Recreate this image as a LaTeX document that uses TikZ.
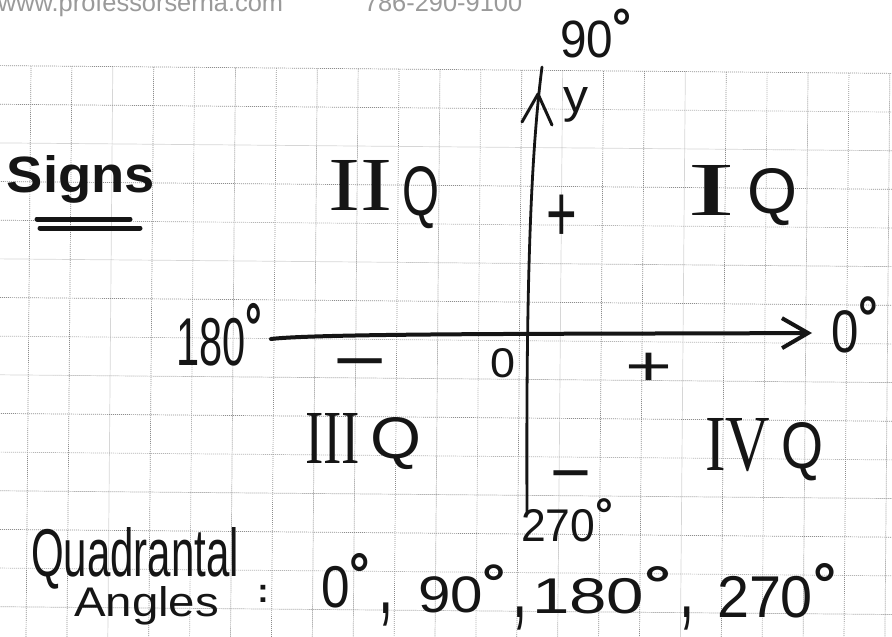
\documentclass[tikz,border=0pt]{standalone}
\usepackage{fontspec}
\setmainfont{Liberation Sans}
\newfontfamily\romfont{Liberation Serif}
\usetikzlibrary{arrows.meta}
\definecolor{ink}{HTML}{151515}
\definecolor{gridc}{HTML}{8C8C8C}
\definecolor{hdr}{HTML}{9A9A9A}
\newcommand{\fitbox}[3]{\resizebox{#1pt}{#2pt}{#3}}
\newcommand{\dg}{\raisebox{.22em}{\textbf{°}}}
\begin{document}
\begin{tikzpicture}[x=1pt,y=-1pt,
  gridline/.style={draw=gridc, line width=0.7pt, dash pattern=on 0.9pt off 1.1pt},
  hw/.style={inner sep=0pt, outer sep=0pt, text=ink, anchor=base west},
  sgn/.style={inner sep=0pt, outer sep=0pt, text=ink, anchor=base, font=\fontsize{70}{70}\selectfont},
  cma/.style={inner sep=0pt, outer sep=0pt, text=ink, anchor=base, font=\fontsize{55}{55}\selectfont},
  hdrtext/.style={inner sep=0pt, outer sep=0pt, text=hdr, anchor=base west, font=\fontsize{25.4}{26}\selectfont},
  axisline/.style={draw=ink, line cap=round, line join=round},
  uline/.style={draw=ink, line width=5pt, line cap=round},
]
\useasboundingbox (0,0) rectangle (892,637);
\fill[white] (0,0) rectangle (892,637);

% graph paper grid
\begin{scope}[rotate around={-0.5:(446,318)}]
  \foreach \k in {0,...,15} \draw[gridline] (-20,{69.5+38.65*\k}) -- (912,{69.5+38.65*\k});
  \foreach \j in {0,...,21} \draw[gridline] ({28.8+40.9*\j},69.5) -- ({28.8+40.9*\j},660);
\end{scope}

% header (cut at the top edge, as in the scan)
\node[hdrtext] (web) at (-2,11) {www.professorserna.com};
\node[hdrtext] (phone) at (364,11) {786-290-9100};

% axes
\coordinate (ytop) at (542,67);
\coordinate (ybot) at (527,513);
\draw[axisline, line width=2.8pt] (ybot) .. controls (526,300) and (530,160) .. (ytop);
\coordinate (ya1) at (522,122);
\coordinate (ya2) at (538,94);
\coordinate (ya3) at (552,125);
\draw[axisline, line width=3pt] (ya1) -- (ya2) -- (ya3);

\coordinate (xl) at (271,339);
\coordinate (xr) at (812,333);
\draw[axisline, line width=4pt, -{Straight Barb[length=26pt,width=30pt]}] (xl) .. controls (320,333) and (600,334) .. (xr);

% Signs title
\node[hw] (signs) at (7,192) {\fitbox{148}{37}{\textbf{Signs}}};
\draw[uline] (37,219) -- (130,219);
\draw[uline] (40,228) -- (140,228);

% quadrant labels
\node[hw] (q2n) at (328,210) {\fitbox{64}{50}{\romfont II}};
\node[hw] (q2q) at (402,215) {\fitbox{37}{49}{Q}};
\node[hw] (q1n) at (687,215) {\fitbox{48}{50}{\romfont I}};
\node[hw] (q1q) at (747,213) {\fitbox{50}{45}{Q}};
\node[hw] (q3n) at (305,463) {\fitbox{55}{50}{\romfont III}};
\node[hw] (q3q) at (370,458) {\fitbox{51}{41}{Q}};
\node[hw] (q4n) at (705,470) {\fitbox{65}{52}{\romfont IV}};
\node[hw] (q4q) at (781,468) {\fitbox{42}{46}{Q}};

% axis labels
\node[hw] (l180) at (176,365) {\fitbox{86}{62}{180\dg}};
\node[hw] (l0) at (831,352) {\fitbox{47}{55}{0\dg}};
\node[hw] (l90) at (560,57) {\fitbox{72}{48}{90\dg}};
\node[hw] (l270) at (521,541) {\fitbox{92}{42}{270\dg}};
\node[hw] (ylab) at (563,112) {\fitbox{25}{25}{y}};
\node[hw] (zero) at (490,377) {\fitbox{25}{29}{0}};

% signs
\node[sgn] (plusU) at (562,241) {\scalebox{.75}[1.15]{+}};
\node[sgn] (plusM) at (649,385) {\scalebox{1.15}[.8]{+}};
\node[sgn] (minusL) at (360.5,384) {\scalebox{1.3}[1]{−}};
\node[sgn] (minusB) at (570.5,496) {−};

% quadrantal angles
\node[hw] (quad) at (31,576) {\fitbox{208}{49}{Quadrantal}};
\node[hw] (angl) at (74,616) {\fitbox{145}{30}{Angles}};
\node[inner sep=0pt, text=ink, anchor=base, font=\fontsize{34}{34}\selectfont\bfseries] (colon) at (263,602) {:};
\node[hw] (b0) at (321,607) {\fitbox{49}{54}{0\dg}};
\node[cma] (c1) at (386,613) {\scalebox{1}[1.8]{,}};
\node[hw] (b90) at (418,612) {\fitbox{88}{47}{90\dg}};
\node[cma] (c2) at (520,617) {\scalebox{1}[1.8]{,}};
\node[hw] (b180) at (532,613) {\fitbox{139}{46}{180\dg}};
\node[cma] (c3) at (687,617) {\scalebox{1}[1.8]{,}};
\node[hw] (b270) at (717,617) {\fitbox{119}{54}{270\dg}};
\end{tikzpicture}
\end{document}
